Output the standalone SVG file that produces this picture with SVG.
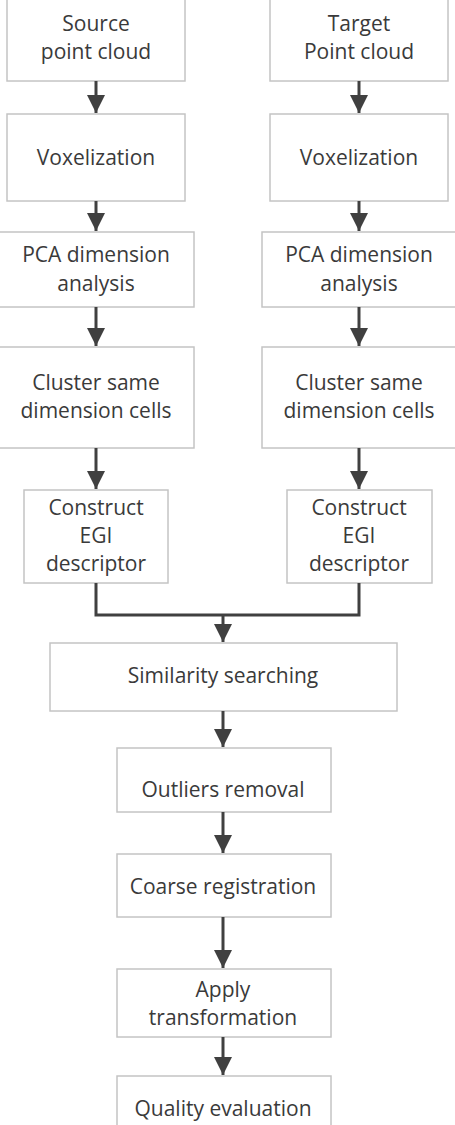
<svg xmlns="http://www.w3.org/2000/svg" width="455" height="1125" viewBox="0 0 455 1125">
<style>
.box{fill:#fff;stroke:#c4c4c4;stroke-width:1.5}
.t{font-family:"Open Sans","Liberation Sans",sans-serif;font-size:21px;fill:#3a3a3a;text-anchor:middle}
.c{fill:none;stroke:#404040;stroke-width:3}
</style>
<defs>
<marker id="ah" markerWidth="6" markerHeight="6" refX="6" refY="3" orient="auto" markerUnits="strokeWidth">
<path d="M0,0 L6,3 L0,6 Z" fill="#404040"/>
</marker>
</defs>
<rect x="0" y="0" width="455" height="1125" fill="#fff"/>
<g id="n-source"><rect class="box" x="7" y="-5" width="178" height="86"/><text class="t" x="96" y="31">Source</text><text class="t" x="96" y="59">point cloud</text></g>
<g id="n-target"><rect class="box" x="270" y="-5" width="178" height="86"/><text class="t" x="359" y="31">Target</text><text class="t" x="359" y="59">Point cloud</text></g>
<g id="n-vox1"><rect class="box" x="7" y="114" width="178" height="87"/><text class="t" x="96" y="165">Voxelization</text></g>
<g id="n-vox2"><rect class="box" x="270" y="114" width="178" height="87"/><text class="t" x="359" y="165">Voxelization</text></g>
<g id="n-pca1"><rect class="box" x="-5" y="232" width="199" height="75"/><text class="t" x="96" y="262">PCA dimension</text><text class="t" x="96" y="291">analysis</text></g>
<g id="n-pca2"><rect class="box" x="262" y="232" width="200" height="75"/><text class="t" x="359" y="262">PCA dimension</text><text class="t" x="359" y="291">analysis</text></g>
<g id="n-cl1"><rect class="box" x="-5" y="347" width="199" height="101"/><text class="t" x="96" y="390">Cluster same</text><text class="t" x="96" y="418">dimension cells</text></g>
<g id="n-cl2"><rect class="box" x="262" y="347" width="200" height="101"/><text class="t" x="359" y="390">Cluster same</text><text class="t" x="359" y="418">dimension cells</text></g>
<g id="n-egi1"><rect class="box" x="24" y="490" width="144" height="93"/><text class="t" x="96" y="515">Construct</text><text class="t" x="96" y="543">EGI</text><text class="t" x="96" y="571">descriptor</text></g>
<g id="n-egi2"><rect class="box" x="287" y="490" width="145" height="93"/><text class="t" x="359" y="515">Construct</text><text class="t" x="359" y="543">EGI</text><text class="t" x="359" y="571">descriptor</text></g>
<g id="n-sim"><rect class="box" x="50" y="643" width="347" height="68"/><text class="t" x="223" y="683">Similarity searching</text></g>
<g id="n-out"><rect class="box" x="117" y="748" width="214" height="64"/><text class="t" x="223" y="797">Outliers removal</text></g>
<g id="n-coarse"><rect class="box" x="117" y="854" width="214" height="63"/><text class="t" x="223" y="894">Coarse registration</text></g>
<g id="n-apply"><rect class="box" x="117" y="969" width="214" height="68"/><text class="t" x="223" y="997">Apply</text><text class="t" x="223" y="1025">transformation</text></g>
<g id="n-qual"><rect class="box" x="117" y="1076" width="214" height="60"/><text class="t" x="223" y="1116">Quality evaluation</text></g>
<g id="connectors">
<line class="c" x1="96" y1="81" x2="96" y2="113" marker-end="url(#ah)"/>
<line class="c" x1="359" y1="81" x2="359" y2="113" marker-end="url(#ah)"/>
<line class="c" x1="96" y1="201" x2="96" y2="231" marker-end="url(#ah)"/>
<line class="c" x1="359" y1="201" x2="359" y2="231" marker-end="url(#ah)"/>
<line class="c" x1="96" y1="307" x2="96" y2="346" marker-end="url(#ah)"/>
<line class="c" x1="359" y1="307" x2="359" y2="346" marker-end="url(#ah)"/>
<line class="c" x1="96" y1="448" x2="96" y2="489" marker-end="url(#ah)"/>
<line class="c" x1="359" y1="448" x2="359" y2="489" marker-end="url(#ah)"/>
<path class="c" d="M96,583 V615 H359 V583"/>
<line class="c" x1="223" y1="615" x2="223" y2="642" marker-end="url(#ah)"/>
<line class="c" x1="223" y1="711" x2="223" y2="747" marker-end="url(#ah)"/>
<line class="c" x1="223" y1="812" x2="223" y2="853" marker-end="url(#ah)"/>
<line class="c" x1="223" y1="917" x2="223" y2="968" marker-end="url(#ah)"/>
<line class="c" x1="223" y1="1037" x2="223" y2="1075" marker-end="url(#ah)"/>
</g>
</svg>
